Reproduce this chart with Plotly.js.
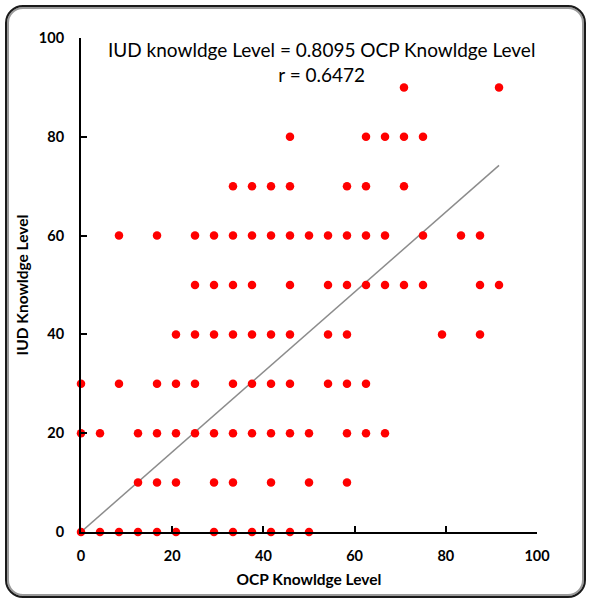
<!DOCTYPE html>
<html>
<head>
<meta charset="utf-8">
<script src="https://cdn.plot.ly/plotly-3.0.1.min.js"></script>
<style>
  html, body { margin: 0; padding: 0; background: #fff; }
  #wrap { position: relative; width: 591px; height: 604px; }
  #chart { position: absolute; left: 0; top: 0; width: 591px; height: 604px; }
  #frame {
    position: absolute; left: 5px; top: 5px; width: 577px; height: 589px;
    border: 2px solid #1a1a1a; border-radius: 18px;
    box-shadow: inset 0 0 0 2px #9a9a9a;
    pointer-events: none;
  }
</style>
</head>
<body>
<div id="wrap">
  <div id="chart"></div>
  <div id="frame"></div>
</div>
<script>
// OCP knowledge levels observed at each IUD knowledge level
const iudLevels = [0, 10, 20, 30, 40, 50, 60, 70, 80, 90];
const ocpAt0  = [0, 4.17, 8.33, 12.5, 16.67, 20.83, 29.17, 33.33, 37.5, 41.67, 45.83, 50];
const ocpAt10 = [12.5, 16.67, 20.83, 29.17, 33.33, 41.67, 50, 58.33];
const ocpAt20 = [0, 4.17, 12.5, 16.67, 20.83, 25, 29.17, 33.33, 37.5, 41.67, 45.83, 50, 58.33, 62.5, 66.67];
const ocpAt30 = [0, 8.33, 16.67, 20.83, 25, 33.33, 37.5, 41.67, 45.83, 54.17, 58.33, 62.5];
const ocpAt40 = [20.83, 25, 29.17, 33.33, 37.5, 41.67, 45.83, 54.17, 58.33, 79.17, 87.5];
const ocpAt50 = [25, 29.17, 33.33, 37.5, 45.83, 54.17, 58.33, 62.5, 66.67, 70.83, 75, 87.5, 91.67];
const ocpAt60 = [8.33, 16.67, 25, 29.17, 33.33, 37.5, 41.67, 45.83, 50, 54.17, 58.33, 62.5, 66.67, 75, 83.33, 87.5];
const ocpAt70 = [33.33, 37.5, 41.67, 45.83, 58.33, 62.5, 70.83];
const ocpAt80 = [45.83, 62.5, 66.67, 70.83, 75];
const ocpAt90 = [70.83, 91.67];

const slope = 0.8095;
const trendX = [0, 91.67];
const xTicks = [0, 20, 40, 60, 80, 100];
const yTicks = [0, 20, 40, 60, 80, 100];

const rows = [ocpAt0, ocpAt10, ocpAt20, ocpAt30, ocpAt40, ocpAt50, ocpAt60, ocpAt70, ocpAt80, ocpAt90];
const xs = [], ys = [];
rows.forEach((row, i) => row.forEach(v => { xs.push(v); ys.push(iudLevels[i]); }));

const font = "Lato, 'Open Sans', sans-serif";

const traces = [
  {
    x: trendX, y: trendX.map(v => slope * v),
    mode: 'lines', type: 'scatter',
    line: {color: '#8c8c8c', width: 1.5},
    hoverinfo: 'skip', cliponaxis: false
  },
  {
    x: xs, y: ys, mode: 'markers', type: 'scatter',
    marker: {color: '#ff0000', size: 8.5},
    cliponaxis: false
  }
];

const layout = {
  width: 591, height: 604,
  margin: {l: 81, r: 54, t: 38, b: 72},
  paper_bgcolor: 'rgba(0,0,0,0)', plot_bgcolor: 'rgba(0,0,0,0)',
  showlegend: false,
  font: {family: font, color: '#000'},
  xaxis: {
    range: [0, 100], tickvals: xTicks, ticktext: xTicks.map(String),
    showgrid: false, zeroline: false, showline: true, linecolor: '#000', linewidth: 2,
    ticks: 'inside', ticklen: 6, tickwidth: 2, tickcolor: '#000',
    tickfont: {family: font, size: 14.5, weight: 'bold', color: '#000'},
    ticklabelstandoff: 10,
    title: {text: 'OCP Knowldge Level', font: {family: font, size: 15.5, weight: 'bold', color: '#000'}, standoff: 11}
  },
  yaxis: {
    range: [0, 100], tickvals: yTicks, ticktext: yTicks.map(String),
    showgrid: false, zeroline: false, showline: true, linecolor: '#000', linewidth: 2,
    ticks: 'inside', ticklen: 6, tickwidth: 2, tickcolor: '#000',
    tickfont: {family: font, size: 14.5, weight: 'bold', color: '#000'},
    ticklabelstandoff: 12,
    title: {text: 'IUD Knowldge Level', font: {family: font, size: 15.5, weight: 'bold', color: '#000'}, standoff: 6}
  },
  annotations: [{
    xref: 'paper', yref: 'paper', x: 0.528, y: 0.951,
    xanchor: 'center', yanchor: 'middle', showarrow: false, align: 'center',
    text: 'IUD knowldge Level = 0.8095 OCP Knowldge Level<br>r = 0.6472',
    font: {family: font, size: 19, color: '#000'}
  }]
};

Plotly.newPlot('chart', traces, layout, {displayModeBar: false, staticPlot: true});
</script>
</body>
</html>
